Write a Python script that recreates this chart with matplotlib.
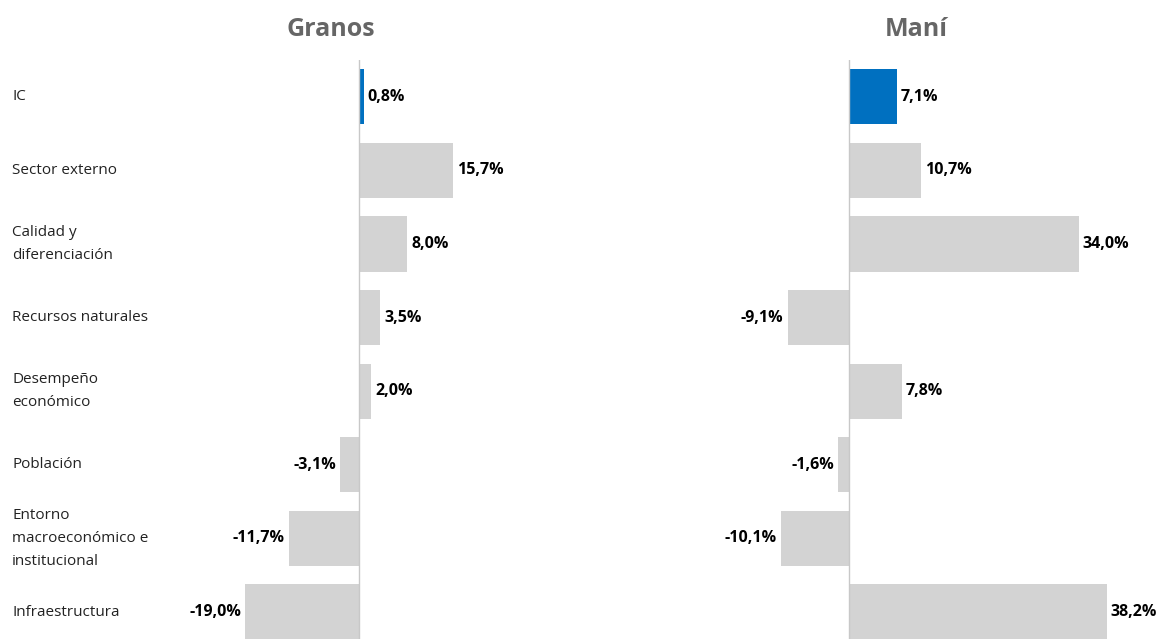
import matplotlib.pyplot as plt
import matplotlib.transforms as mtransforms
import numpy as np

plt.rcParams['font.family'] = ['Open Sans', 'DejaVu Sans']

# Data
categories = ["IC", "Sector externo", "Calidad y\ndiferenciación", "Recursos naturales",
              "Desempeño\neconómico", "Población", "Entorno\nmacroeconómico e\ninstitucional",
              "Infraestructura"]
granos = [0.8, 15.7, 8.0, 3.5, 2.0, -3.1, -11.7, -19.0]
mani = [7.1, 10.7, 34.0, -9.1, 7.8, -1.6, -10.1, 38.2]
titles = ["Granos", "Maní"]

blue = '#0070C0'
grey = '#D3D3D3'

W, H = 1167, 639
fig = plt.figure(figsize=(W/100, H/100), dpi=100)

# axes positions in pixels: (left, right, zero, px per unit, title x)
layouts = [(180, 600, 359, 6.0, 331), (680, 1167, 849, 6.75, 916)]
top_px, bottom_px = 60, 639
row_px = 73.6

y = np.arange(len(categories))
y_bottom = -0.5 + (bottom_px - top_px) / row_px

axes = []
for (l, r, z, s, tx), vals, title in zip(layouts, [granos, mani], titles):
    ax = fig.add_axes([l/W, 1 - bottom_px/H, (r-l)/W, (bottom_px-top_px)/H])
    colors = [blue] + [grey]*(len(vals)-1)
    ax.barh(y, vals, height=0.75, color=colors)
    ax.set_xlim((l - z)/s, (r - z)/s)
    ax.set_ylim(y_bottom, -0.5)
    ax.axvline(0, color='#C8C8C8', lw=1, zorder=3)
    off = 4 / s
    for yi, v in zip(y, vals):
        txt = f"{v:.1f}".replace('.', ',') + '%'
        if v >= 0:
            ax.text(v + off, yi, txt, va='center', ha='left', fontsize=11.5, fontweight='bold', color='black')
        else:
            ax.text(v - off, yi, txt, va='center', ha='right', fontsize=11.5, fontweight='bold', color='black')
    ax.axis('off')
    fig.text(tx/W, 1 - 30/H, title, ha='center', va='center', fontsize=18,
             fontweight='bold', color='#666666')
    axes.append(ax)

# category labels
trans = mtransforms.blended_transform_factory(fig.transFigure, axes[0].transData)
for yi, c in zip(y, categories):
    axes[0].text(12/W, yi, c, transform=trans, ha='left', va='center', fontsize=11,
                 color='#222222', linespacing=1.75, clip_on=False)

fig.savefig('out.png', dpi=100)
